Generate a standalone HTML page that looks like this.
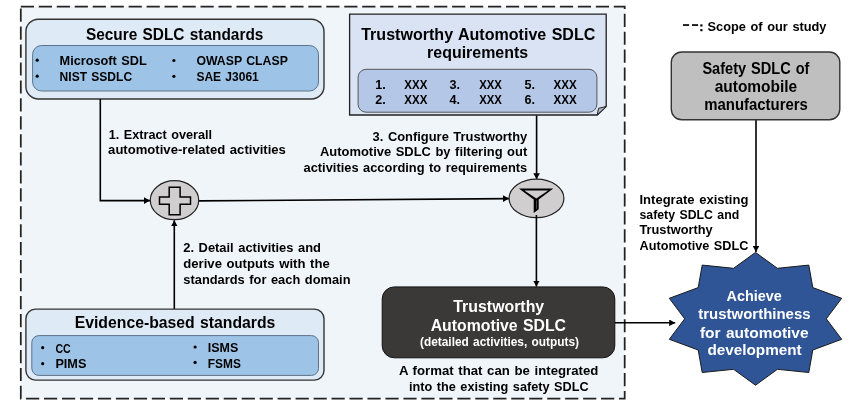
<!DOCTYPE html>
<html><head><meta charset="utf-8">
<style>
html,body{margin:0;padding:0;background:#fff;}
body{width:866px;height:405px;overflow:hidden;}
svg{display:block;will-change:transform;}
text{font-family:"Liberation Sans",sans-serif;font-weight:bold;fill:#000;word-spacing:1px;}
</style></head>
<body>
<svg width="866" height="405" viewBox="0 0 866 405">
<defs>
<marker id="ah" viewBox="0 0 6 6.6" refX="6" refY="3.3" markerWidth="6" markerHeight="6.6" markerUnits="userSpaceOnUse" orient="auto">
<path d="M0,0 L6,3.3 L0,6.6 z" fill="#000"/>
</marker>
</defs>
<!-- dashed scope box -->
<rect x="20.8" y="6.6" width="603.9" height="392" fill="#F0F5FA" stroke="none"/>
<rect x="20.8" y="6.6" width="603.9" height="392" fill="none" stroke="#222" stroke-width="1.75" stroke-dasharray="13.2 4.77"/>

<!-- Secure SDLC standards -->
<rect x="25.9" y="19.2" width="298.1" height="79.8" rx="12.5" fill="#DEEBF7" stroke="#333" stroke-width="1.4"/>
<rect x="32.6" y="45.5" width="285.9" height="45.5" rx="9" fill="#9DC3E6" stroke="#5d7288" stroke-width="1"/>
<text x="85.9" y="39.6" font-size="17.4" textLength="177.5" lengthAdjust="spacingAndGlyphs">Secure SDLC standards</text>
<g font-size="13">
<text x="59.6" y="65" textLength="87.2" lengthAdjust="spacingAndGlyphs">Microsoft SDL</text>
<text x="59.6" y="80.7" textLength="72.5" lengthAdjust="spacingAndGlyphs">NIST SSDLC</text>
<text x="196.4" y="64.8" textLength="91.5" lengthAdjust="spacingAndGlyphs">OWASP CLASP</text>
<text x="196.4" y="80.7" textLength="62.4" lengthAdjust="spacingAndGlyphs">SAE J3061</text>
</g>
<circle cx="37.2" cy="60.2" r="1.6" fill="#000"/>
<circle cx="37.2" cy="76.2" r="1.6" fill="#000"/>
<circle cx="173.9" cy="60.5" r="1.6" fill="#000"/>
<circle cx="173.9" cy="76.3" r="1.6" fill="#000"/>

<!-- Requirements document box -->
<path d="M349.6,14.1 H606.2 V106.5 L597.2,115 H349.6 Z" fill="#DAE3F3" stroke="#222" stroke-width="1.3"/>
<path d="M606.2,106.5 L598.6,108.3 L597.2,115 Z" fill="#AEB6C4" stroke="#222" stroke-width="1"/>
<rect x="358.1" y="69.3" width="238.8" height="42.9" rx="8" fill="#B4C7E7" stroke="#555" stroke-width="1"/>
<text x="361.2" y="39.8" font-size="17" textLength="234.2" lengthAdjust="spacingAndGlyphs">Trustworthy Automotive SDLC</text>
<text x="427.1" y="58.1" font-size="17" textLength="101" lengthAdjust="spacingAndGlyphs">requirements</text>
<g font-size="12.6">
<text x="375.2" y="88.8">1.</text><text x="404.3" y="88.8" textLength="23" lengthAdjust="spacingAndGlyphs">XXX</text>
<text x="449.5" y="88.8">3.</text><text x="479.2" y="88.8" textLength="22.7" lengthAdjust="spacingAndGlyphs">XXX</text>
<text x="524.4" y="88.8">5.</text><text x="553.5" y="88.8" textLength="23.2" lengthAdjust="spacingAndGlyphs">XXX</text>
<text x="375.2" y="103.9">2.</text><text x="404.3" y="103.9" textLength="23" lengthAdjust="spacingAndGlyphs">XXX</text>
<text x="449.5" y="103.9">4.</text><text x="479.2" y="103.9" textLength="22.7" lengthAdjust="spacingAndGlyphs">XXX</text>
<text x="524.4" y="103.9">6.</text><text x="553.5" y="103.9" textLength="23.2" lengthAdjust="spacingAndGlyphs">XXX</text>
</g>

<!-- connectors -->
<g stroke="#000" stroke-width="1.6" fill="none">
<polyline points="100.3,99 100.3,200.6 150,200.6" marker-end="url(#ah)"/>
<line x1="174.3" y1="309" x2="174.3" y2="220.3" marker-end="url(#ah)"/>
<line x1="198.5" y1="200.9" x2="509" y2="198.6" marker-end="url(#ah)"/>
<line x1="536.6" y1="115.5" x2="536.6" y2="179.2" marker-end="url(#ah)"/>
<line x1="614.8" y1="322.8" x2="675.2" y2="322.8" marker-end="url(#ah)"/>
<line x1="756" y1="120" x2="756" y2="252" marker-end="url(#ah)"/>
</g>

<!-- plus circle -->
<ellipse cx="174.5" cy="200.2" rx="24.2" ry="19.5" fill="#D0CECE" stroke="#222" stroke-width="1.2"/>
<path d="M169.2,187.2 H180.1 V197 H190.5 V204.2 H180.1 V214.7 H169.2 V204.2 H159.5 V197 H169.2 Z" fill="#D0CECE" stroke="#000" stroke-width="1.5"/>

<!-- filter circle -->
<ellipse cx="536.5" cy="198.4" rx="27.4" ry="19.3" fill="#D0CECE" stroke="#222" stroke-width="1.2"/>
<path d="M518.9,188.5 H553.3 L538.7,199.6 V209.2 L533.7,213 V199.6 Z" fill="#000"/>
<path d="M524.3,190.6 H548.2 L536.3,198.6 Z" fill="#D0CECE"/>
<path d="M536,200.6 H536.7 V208.4 L536,209 Z" fill="#6a6868"/>
<line x1="536.4" y1="215" x2="536.4" y2="286.6" stroke="#000" stroke-width="1.6" marker-end="url(#ah)"/>

<!-- step labels -->
<g font-size="13.4">
<text x="108.8" y="138.5" textLength="103.2" lengthAdjust="spacingAndGlyphs">1. Extract overall</text>
<text x="108.1" y="154.2" textLength="177.8" lengthAdjust="spacingAndGlyphs">automotive-related activities</text>
<text x="372.6" y="140.5" textLength="154.6" lengthAdjust="spacingAndGlyphs">3. Configure Trustworthy</text>
<text x="320" y="156.1" textLength="207.2" lengthAdjust="spacingAndGlyphs">Automotive SDLC by filtering out</text>
<text x="303.5" y="171.5" textLength="223.7" lengthAdjust="spacingAndGlyphs">activities according to requirements</text>
<text x="183.3" y="252" textLength="137.6" lengthAdjust="spacingAndGlyphs">2. Detail activities and</text>
<text x="183.3" y="268" textLength="146.5" lengthAdjust="spacingAndGlyphs">derive outputs with the</text>
<text x="183.3" y="283.6" textLength="167.2" lengthAdjust="spacingAndGlyphs">standards for each domain</text>
</g>

<!-- Evidence-based standards -->
<rect x="25.9" y="309.1" width="298.1" height="71" rx="9.5" fill="#DEEBF7" stroke="#333" stroke-width="1.4"/>
<rect x="31.8" y="335.6" width="286.7" height="39.8" rx="7" fill="#9DC3E6" stroke="#5d7288" stroke-width="1"/>
<text x="74.7" y="328.4" font-size="17" textLength="200.7" lengthAdjust="spacingAndGlyphs">Evidence-based standards</text>
<g font-size="13">
<text x="55.4" y="352.8" textLength="15.3" lengthAdjust="spacingAndGlyphs">CC</text>
<text x="55.4" y="368.4" textLength="31" lengthAdjust="spacingAndGlyphs">PIMS</text>
<text x="207.8" y="352.2" textLength="30.5" lengthAdjust="spacingAndGlyphs">ISMS</text>
<text x="207.8" y="367.9" textLength="33.1" lengthAdjust="spacingAndGlyphs">FSMS</text>
</g>
<circle cx="42.7" cy="347.7" r="1.6" fill="#000"/>
<circle cx="42.7" cy="363.7" r="1.6" fill="#000"/>
<circle cx="195.1" cy="347" r="1.6" fill="#000"/>
<circle cx="195.1" cy="362.4" r="1.6" fill="#000"/>

<!-- Trustworthy Automotive SDLC dark box -->
<rect x="382.2" y="286.9" width="232.6" height="70.9" rx="12" fill="#3B3838" stroke="#111" stroke-width="1"/>
<text x="453.3" y="311.8" font-size="16.5" fill="#fff" style="fill:#fff" textLength="90.9" lengthAdjust="spacingAndGlyphs">Trustworthy</text>
<text x="430.7" y="331" font-size="16.5" style="fill:#fff" textLength="135.3" lengthAdjust="spacingAndGlyphs">Automotive SDLC</text>
<text x="420" y="346.4" font-size="12" style="fill:#fff" textLength="159" lengthAdjust="spacingAndGlyphs">(detailed activities, outputs)</text>
<g font-size="13.4">
<text x="398.9" y="375.2" textLength="199.4" lengthAdjust="spacingAndGlyphs">A format that can be integrated</text>
<text x="409" y="390.5" textLength="179.7" lengthAdjust="spacingAndGlyphs">into the existing safety SDLC</text>
</g>

<!-- right side -->
<rect x="683" y="24.2" width="6.1" height="1.7" fill="#000"/>
<rect x="692" y="24.2" width="6.1" height="1.7" fill="#000"/>
<rect x="700.3" y="24.4" width="2.2" height="2.1" fill="#000"/>
<rect x="700.3" y="29.1" width="2.2" height="2.1" fill="#000"/>
<text x="707.6" y="31" font-size="12.3" textLength="118.9" lengthAdjust="spacingAndGlyphs">Scope of our study</text>
<rect x="671.3" y="52" width="168.5" height="67.8" rx="10.5" fill="#BFBFBF" stroke="#333" stroke-width="1.4"/>
<g font-size="15.6">
<text x="702.4" y="74" textLength="107" lengthAdjust="spacingAndGlyphs">Safety SDLC of</text>
<text x="714.7" y="91.7" textLength="82.5" lengthAdjust="spacingAndGlyphs">automobile</text>
<text x="704.2" y="110.1" textLength="103.7" lengthAdjust="spacingAndGlyphs">manufacturers</text>
</g>
<g font-size="12">
<text x="639.5" y="203.7" textLength="108.9" lengthAdjust="spacingAndGlyphs">Integrate existing</text>
<text x="639.5" y="218.7" textLength="99.7" lengthAdjust="spacingAndGlyphs">safety SDLC and</text>
<text x="639.5" y="233.9" textLength="73.1" lengthAdjust="spacingAndGlyphs">Trustworthy</text>
<text x="639.5" y="250.3" textLength="108.9" lengthAdjust="spacingAndGlyphs">Automotive SDLC</text>
</g>

<!-- star -->
<polygon id="star" fill="#2F5597" stroke="#1a1a1a" stroke-width="1" points="755.5,252.4 733.6,268.3 702.2,265.1 698.2,287.6 669.3,298.3 684.7,318.8 669.3,339.3 698.2,350.0 702.2,372.5 733.6,369.3 755.5,385.2 777.4,369.3 808.8,372.5 812.8,350.0 841.7,339.3 826.3,318.8 841.7,298.3 812.8,287.6 808.8,265.1 777.4,268.3"/>
<g font-size="14.4" style="fill:#fff">
<text x="726.6" y="301.4" style="fill:#fff" textLength="55.3" lengthAdjust="spacingAndGlyphs">Achieve</text>
<text x="698.3" y="319.1" style="fill:#fff" textLength="112.3" lengthAdjust="spacingAndGlyphs">trustworthiness</text>
<text x="699.9" y="337.8" style="fill:#fff" textLength="108.7" lengthAdjust="spacingAndGlyphs">for automotive</text>
<text x="707.4" y="355.4" style="fill:#fff" textLength="94.3" lengthAdjust="spacingAndGlyphs">development</text>
</g>
</svg>
</body></html>
